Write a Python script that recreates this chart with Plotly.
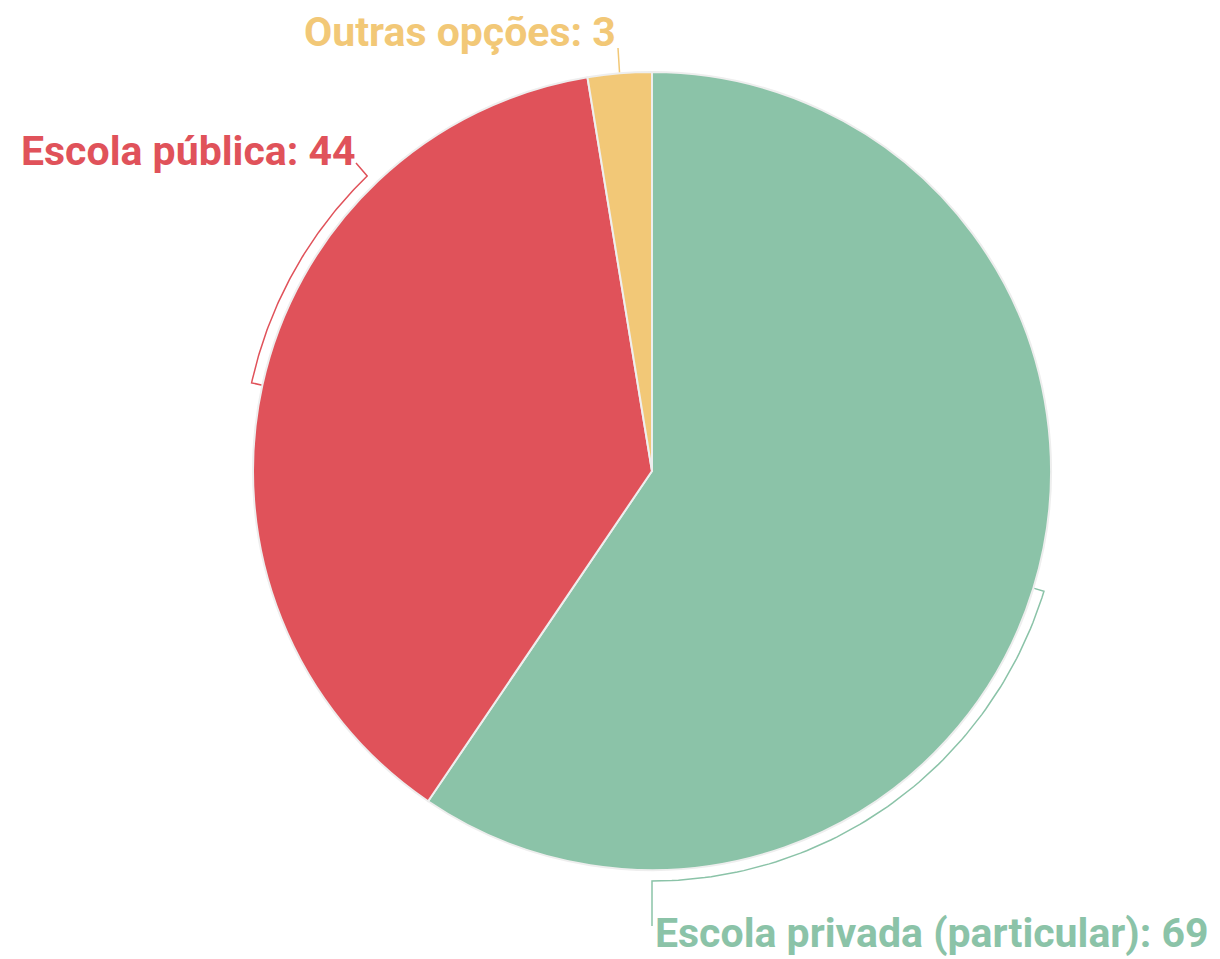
import numpy as np
import plotly.graph_objects as go

# Data
categories = ["Escola privada (particular)", "Escola pública", "Outras opções"]
values = [69, 44, 3]
colors = ["#8bc3a8", "#e0525a", "#f2c877"]

# page body has an 8px margin, so figure coordinates are screen - 8
W, H = 1212, 951
OFF = 8
CX, CY, R = 652 - OFF, 471 - OFF, 399
R_ARC = 410

fig = go.Figure()
fig.add_trace(go.Pie(
    labels=categories, values=values, sort=False, direction="clockwise", rotation=0,
    marker=dict(colors=colors, line=dict(color="#eeeeee", width=2)),
    textinfo="none", hoverinfo="label+value", showlegend=False,
    domain=dict(x=[(CX - R) / W, (CX + R) / W], y=[(H - CY - R) / H, (H - CY + R) / H]),
))

total = sum(values)
cum = np.cumsum([0] + values)
mid_angles = [(cum[i] + values[i] / 2) / total * 360 for i in range(len(values))]

def pt(r, ang):
    a = np.radians(ang)
    return CX + r * np.sin(a), CY - r * np.cos(a)

# label placement (screen pixels): arc end angle, connector end point, annotation anchor
placement = [
    dict(arc_end=180, end=(652, 926), ann=dict(x=653, y=933, xanchor="left")),
    dict(arc_end=316, end=(356, 163), ann=dict(x=358, y=151, xanchor="right")),
    dict(arc_end=None, end=(618, 48), ann=dict(x=618, y=32, xanchor="right")),
]

for i, (cat, v, col) in enumerate(zip(categories, values, colors)):
    m = mid_angles[i]
    p = placement[i]
    xs, ys = [], []
    x0, y0 = pt(R, m)
    xs.append(x0); ys.append(y0)
    if p["arc_end"] is not None:
        for a in np.linspace(m, p["arc_end"], 80):
            x, y = pt(R_ARC, a)
            xs.append(x); ys.append(y)
    xs.append(p["end"][0] - OFF); ys.append(p["end"][1] - OFF)
    fig.add_trace(go.Scatter(x=xs, y=ys, mode="lines", line=dict(color=col, width=1.5),
                             hoverinfo="skip", showlegend=False))
    a = p["ann"]
    fig.add_annotation(x=a["x"] - OFF, y=a["y"] - OFF, xref="x", yref="y",
                       xanchor=a["xanchor"], yanchor="middle",
                       text=f"<b>{cat}: {v}</b>", showarrow=False,
                       font=dict(family="Roboto", size=41, color=col))

fig.update_layout(
    width=W, height=H, margin=dict(l=0, r=0, t=0, b=0),
    paper_bgcolor="white", plot_bgcolor="rgba(0,0,0,0)",
    xaxis=dict(range=[0, W], visible=False, fixedrange=True),
    yaxis=dict(range=[H, 0], visible=False, fixedrange=True),
)
fig.write_html("out.html")
